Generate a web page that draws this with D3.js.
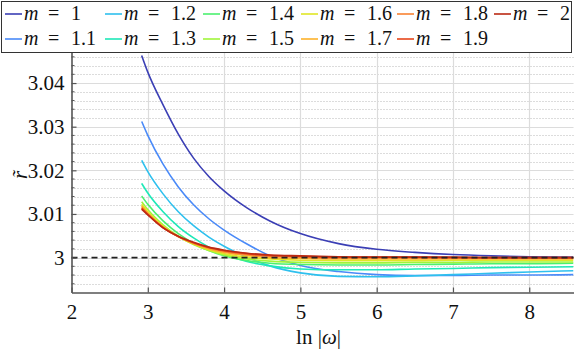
<!DOCTYPE html>
<html><head><meta charset="utf-8">
<script src="https://cdn.jsdelivr.net/npm/d3@7"></script>
<style>body{margin:0;background:#fff}svg{display:block}</style>
</head><body>
<svg id="c" width="574" height="350"></svg>
<script>
const lnOmega = [2.92, 3.0, 3.2, 3.4, 3.6, 3.8, 4.0, 4.3, 4.6, 5.0, 5.5, 6.0, 6.5, 7.0, 7.5, 8.0, 8.58];
const mValues = ["1","1.1","1.2","1.3","1.4","1.5","1.6","1.7","1.8","1.9","2"];
const colors = ["#3b3fb5","#4a8af8","#2fc0ee","#1ee8b8","#4cf070","#a0f53a","#e0e626","#fdb22a","#f98232","#e6461a","#bb2a14"];
const r_m1  = [3.0463,3.0425,3.0350,3.0283,3.0228,3.0186,3.0153,3.0114,3.0084,3.0055,3.0032,3.0019,3.0012,3.0007,3.0004,3.0002,3.0001];
const r_m11 = [3.0312,3.0280,3.0214,3.0162,3.0121,3.0089,3.0063,3.0031,3.0004,2.9982,2.9968,2.9961,2.9959,2.9959,2.9960,2.9960,2.9961];
const r_m12 = [3.0223,3.0197,3.0146,3.0105,3.0073,3.0047,3.0026,3.0001,2.9981,2.9965,2.9957,2.9956,2.9958,2.9961,2.9964,2.9967,2.9970];
const r_m13 = [3.0170,3.0148,3.0105,3.0071,3.0045,3.0024,3.0008,2.9991,2.9981,2.9974,2.9972,2.9972,2.9974,2.9975,2.9977,2.9978,2.9979];
const r_m14 = [3.0141,3.0122,3.0084,3.0055,3.0033,3.0016,3.0004,2.9993,2.9987,2.9984,2.9983,2.9983,2.9984,2.9985,2.9986,2.9986,2.9987];
const r_m15 = [3.0128,3.0110,3.0075,3.0049,3.0030,3.0016,3.0006,2.9997,2.9992,2.9989,2.9988,2.9988,2.9989,2.9989,2.9990,2.9990,2.9990];
const r_m16 = [3.0122,3.0105,3.0072,3.0048,3.0031,3.0018,3.0009,3.0001,2.9997,2.9994,2.9993,2.9993,2.9993,2.9994,2.9994,2.9994,2.9994];
const r_m17 = [3.0118,3.0102,3.0070,3.0048,3.0032,3.0020,3.0012,3.0005,3.0000,2.9998,2.9997,2.9997,2.9997,2.9997,2.9997,2.9997,2.9997];
const r_m18 = [3.0115,3.0100,3.0069,3.0048,3.0033,3.0022,3.0014,3.0007,3.0003,3.0001,2.9999,2.9999,2.9999,2.9999,2.9999,2.9999,2.9999];
const r_m19 = [3.0113,3.0099,3.0069,3.0048,3.0034,3.0023,3.0016,3.0009,3.0005,3.0003,3.0001,3.0001,3.0001,3.0000,3.0000,3.0000,3.0000];
const r_m2  = [3.0111,3.0098,3.0068,3.0049,3.0035,3.0024,3.0017,3.0010,3.0006,3.0004,3.0002,3.0001,3.0001,3.0001,3.0000,3.0000,3.0000];
const series = [r_m1,r_m11,r_m12,r_m13,r_m14,r_m15,r_m16,r_m17,r_m18,r_m19,r_m2];
const xTicks = [2,3,4,5,6,7,8];
const yTicks = [3,3.01,3.02,3.03,3.04];
const yTickLabels = ["3","3.01","3.02","3.03","3.04"];
const yMinor = [2.994,2.996,2.998,3.002,3.004,3.006,3.008,3.012,3.014,3.016,3.018,3.022,3.024,3.026,3.028,3.032,3.034,3.036,3.038,3.042,3.044,3.046];
const refLine = 3;

const svg = d3.select("#c");
const L = 71.5, R = 573.5, T = 52.5, B = 292.5;
const x = d3.scaleLinear().domain([2, 8.58]).range([L, R]);
const y = d3.scaleLinear().domain([2.992, 3.047]).range([B, T]);
const serif = "Liberation Serif, DejaVu Serif, serif";

svg.append("defs").append("clipPath").attr("id","clip")
  .append("rect").attr("x",L).attr("y",T).attr("width",R-L).attr("height",B-T);

// minor grid (dotted)
svg.append("g").selectAll("line").data(yMinor)
  .join("line").attr("x1",L).attr("x2",R).attr("y1",d=>Math.round(y(d))+0.5).attr("y2",d=>Math.round(y(d))+0.5)
  .attr("stroke","#b8b8b8").attr("stroke-width",1).attr("stroke-dasharray","1,2");
// major grid
svg.append("g").selectAll("line").data(yTicks)
  .join("line").attr("x1",L).attr("x2",R).attr("y1",d=>Math.round(y(d))+0.5).attr("y2",d=>Math.round(y(d))+0.5)
  .attr("stroke","#dcdcdc").attr("stroke-width",1.2);
svg.append("g").selectAll("line").data(xTicks.slice(1))
  .join("line").attr("y1",T).attr("y2",B).attr("x1",d=>Math.round(x(d))+0.5).attr("x2",d=>Math.round(x(d))+0.5)
  .attr("stroke","#dcdcdc").attr("stroke-width",1.2);

// curves
const line = d3.line().x((d,i)=>x(lnOmega[i])).y(d=>y(d)).curve(d3.curveMonotoneX);
svg.append("g").attr("clip-path","url(#clip)").selectAll("path").data(series)
  .join("path").attr("d",d=>line(d)).attr("fill","none")
  .attr("stroke",(d,i)=>colors[i]).attr("stroke-width",1.6);

// reference dashed line
svg.append("line").attr("x1",L).attr("x2",R).attr("y1",y(refLine)).attr("y2",y(refLine))
  .attr("stroke","#222").attr("stroke-width",1.6).attr("stroke-dasharray","6,4");

// axes
const xAxis = d3.axisBottom(x).tickValues(xTicks).tickSizeInner(-5).tickSizeOuter(0).tickPadding(12).tickFormat(d3.format("d"));
const gx = svg.append("g").attr("transform",`translate(0,${B})`).call(xAxis);
gx.select(".domain").attr("stroke","#555").attr("stroke-width",1.6);
gx.selectAll(".tick line").attr("stroke","#555").attr("stroke-width",1.2);
gx.selectAll(".tick text").style("font-family",serif).style("font-size","21px").attr("fill","#111");

const yAxis = d3.axisLeft(y).tickValues(yTicks).tickSizeInner(-5).tickSizeOuter(0).tickPadding(7).tickFormat((d,i)=>yTickLabels[i]);
const gy = svg.append("g").attr("transform",`translate(${L},0)`).call(yAxis);
gy.select(".domain").attr("stroke","#555").attr("stroke-width",1.6);
gy.selectAll(".tick line").attr("stroke","#555").attr("stroke-width",1.2);
gy.selectAll(".tick text").style("font-family",serif).style("font-size","21px").attr("fill","#111");
svg.append("g").selectAll("line").data(yMinor).join("line")
  .attr("x1",L).attr("x2",L+3).attr("y1",d=>y(d)).attr("y2",d=>y(d)).attr("stroke","#555").attr("stroke-width",1);

// axis labels
const xl = svg.append("text").attr("x",(L+R)/2 - 4).attr("y",344).attr("text-anchor","middle")
  .style("font-family",serif).style("font-size","21px").attr("fill","#111");
xl.append("tspan").text("ln |");
xl.append("tspan").attr("font-style","italic").text("ω");
xl.append("tspan").text("|");
svg.append("text").attr("transform","translate(27,175) rotate(-90)").attr("text-anchor","middle")
  .style("font-family",serif).style("font-size","21px").attr("font-style","italic").attr("fill","#111").text("r\u0303");

// legend
svg.append("rect").attr("x",1.5).attr("y",1.5).attr("width",570).attr("height",51)
  .attr("fill","#fff").attr("stroke","#333").attr("stroke-width",1);
const colX = [5,105,203,301,397,494];
const rowY = [14,39];
const leg = svg.append("g").selectAll("g").data(mValues).join("g")
  .attr("transform",(d,i)=>`translate(${colX[Math.floor(i/2)]},${rowY[i%2]})`);
leg.append("line").attr("x1",0).attr("x2",17).attr("y1",0).attr("y2",0)
  .attr("stroke",(d,i)=>colors[i]).attr("stroke-width",1.6);
const lt = leg.append("text").attr("y",6).style("font-family",serif).style("font-size","20px").attr("fill","#111");
lt.append("tspan").attr("x",19).attr("font-style","italic").text("m");
lt.append("tspan").attr("x",43).text("=");
lt.append("tspan").attr("x",66).text(d=>d);
</script>
</body></html>
